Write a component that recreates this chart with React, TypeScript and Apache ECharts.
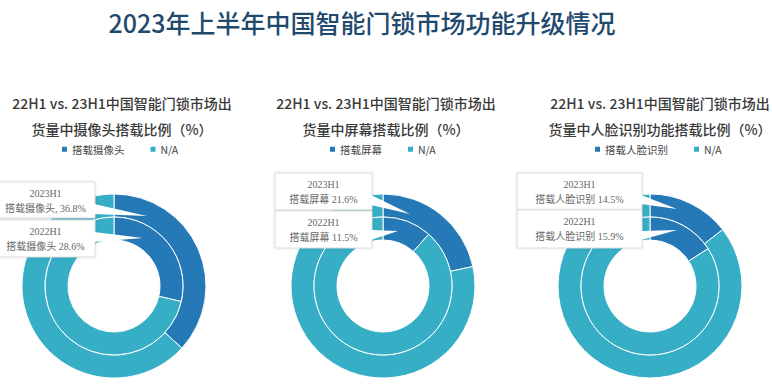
import React, { useEffect, useRef } from 'react';
import * as echarts from 'echarts';

const mainTitle = '2023年上半年中国智能门锁市场功能升级情况';
const features = ['搭载摄像头', '搭载屏幕', '搭载人脸识别'];
const naLabel = 'N/A';
const share2023 = [36.8, 21.6, 14.5];
const na2023 = [63.2, 78.4, 85.5];
const share2022 = [28.6, 11.5, 15.9];
const na2022 = [71.4, 88.5, 84.1];
const periods = ['2023H1', '2022H1'];
const subtitleLine1 = '22H1 vs. 23H1中国智能门锁市场出';
const subtitleLine2 = ['货量中摄像头搭载比例（%）', '货量中屏幕搭载比例（%）', '货量中人脸识别功能搭载比例（%）'];
const calloutSeparators = [[', ', ' '], [' ', ' '], [' ', ' ']];

const DARK = '#2479b6';
const TEAL = '#36aec6';
const FONT = '"Noto Sans CJK SC", "Noto Sans", sans-serif';

const centers = [[114, 286], [383, 286], [650, 286]];
const subtitleX = [122, 386, 660];
const legendLeft = [60, 328, 593];
const calloutBoxes = [
  [
    { x: -4, y: 182, w: 99, h: 36, base: [204, 214], tip: [147, 216] },
    { x: -4, y: 220, w: 99, h: 37, base: [232, 242], tip: [143, 238] },
  ],
  [
    { x: 275, y: 173, w: 97, h: 37, base: [195, 205], tip: [410, 214] },
    { x: 275, y: 211, w: 97, h: 37, base: [230, 240], tip: [398, 231] },
  ],
  [
    { x: 517, y: 173, w: 125, h: 37, base: [195, 204], tip: [677, 209] },
    { x: 517, y: 210, w: 125, h: 38, base: [231, 240], tip: [677, 230] },
  ],
];

export default function App() {
  const ref = useRef<HTMLDivElement>(null);
  useEffect(() => {
    if (!ref.current) return;
    const chart = echarts.init(ref.current, null, { renderer: 'svg' });

    const titles: any[] = [
      {
        text: mainTitle,
        left: 362,
        top: 6,
        textAlign: 'center',
        padding: 0,
        textStyle: { fontFamily: FONT, fontSize: 25, fontWeight: 500, color: '#1f4a6e', lineHeight: 32 },
      },
    ];
    const legends: any[] = [];
    const series: any[] = [];
    const graphics: any[] = [];

    features.forEach((f, k) => {
      titles.push({
        text: subtitleLine1 + '\n' + subtitleLine2[k],
        left: subtitleX[k],
        top: 90,
        textAlign: 'center',
        padding: 0,
        textStyle: { fontFamily: FONT, fontSize: 14, fontWeight: 500, color: '#3a3a3a', lineHeight: 26 },
      });
      legends.push({
        data: [f, naLabel],
        left: legendLeft[k],
        top: 144,
        padding: 0,
        itemGap: 24,
        itemWidth: 7,
        itemHeight: 7,
        icon: 'rect',
        selectedMode: false,
        textStyle: { fontFamily: FONT, fontSize: 10.5, color: '#444', padding: [0, 0, 0, -1] },
      });
      const common = {
        type: 'pie',
        center: centers[k],
        startAngle: 90,
        clockwise: true,
        silent: true,
        label: { show: false },
        labelLine: { show: false },
        itemStyle: { borderColor: '#ffffff', borderWidth: 1 },
      };
      series.push({
        ...common,
        name: periods[0] + '-' + k,
        radius: [69, 92],
        data: [
          { name: f, value: share2023[k], itemStyle: { color: DARK } },
          { name: naLabel, value: na2023[k], itemStyle: { color: TEAL } },
        ],
      });
      series.push({
        ...common,
        name: periods[1] + '-' + k,
        radius: [46, 69],
        data: [
          { name: f, value: share2022[k], itemStyle: { color: DARK } },
          { name: naLabel, value: na2022[k], itemStyle: { color: TEAL } },
        ],
      });

      const vals = [share2023[k], share2022[k]];
      calloutBoxes[k].forEach((b, i) => {
        graphics.push({
          type: 'rect',
          z: 100,
          shape: { x: b.x, y: b.y, width: b.w, height: b.h },
          style: {
            fill: '#ffffff',
            stroke: '#dcdcdc',
            lineWidth: 1,
            shadowBlur: 3,
            shadowColor: 'rgba(0,0,0,0.12)',
          },
        });
        graphics.push({
          type: 'polygon',
          z: 101,
          shape: {
            points: [
              [b.x + b.w - 1, b.base[0]],
              [b.tip[0], b.tip[1]],
              [b.x + b.w - 1, b.base[1]],
            ],
          },
          style: { fill: '#ffffff', stroke: null },
        });
        graphics.push({
          type: 'text',
          z: 102,
          x: b.x + b.w / 2,
          y: b.y + 11,
          style: {
            text: periods[i],
            fontFamily: '"Liberation Serif", "DejaVu Serif", "Noto Sans CJK SC", serif',
            fontSize: 10,
            fill: '#666',
            align: 'center',
            verticalAlign: 'middle',
          },
        });
        graphics.push({
          type: 'text',
          z: 102,
          x: b.x + b.w / 2,
          y: b.y + 26,
          style: {
            text: f + calloutSeparators[k][i] + vals[i].toFixed(1) + '%',
            fontFamily: '"Liberation Serif", "DejaVu Serif", "Noto Sans CJK SC", serif',
            fontSize: 10,
            fill: '#666',
            align: 'center',
            verticalAlign: 'middle',
          },
        });
      });
    });

    chart.setOption({
      animation: false,
      backgroundColor: '#ffffff',
      color: [DARK, TEAL],
      title: titles,
      legend: legends,
      series,
      graphic: graphics,
    });
    return () => chart.dispose();
  }, []);
  return (
    <div
      ref={ref}
      style={{ position: 'absolute', left: 0, top: 0, width: 772, height: 392 }}
    />
  );
}
